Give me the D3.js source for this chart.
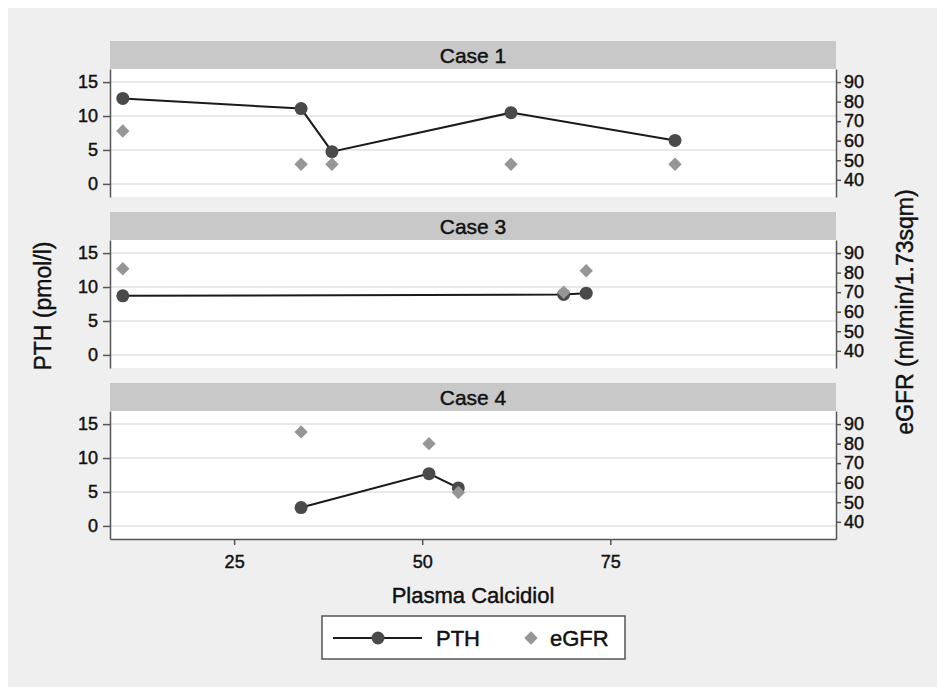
<!DOCTYPE html>
<html>
<head>
<meta charset="utf-8">
<script src="https://cdn.jsdelivr.net/npm/d3@7"></script>
<style>
  html, body { margin: 0; padding: 0; background: #fff; overflow: hidden; }
  svg { display: block; }
  svg text { font-family: "Liberation Sans", Arial, sans-serif; fill: #111; stroke: #111; stroke-width: 0.45px; }
</style>
</head>
<body>
<svg id="chart" width="937" height="687"></svg>
<script>
// values
var caseLabels = ["Case 1", "Case 3", "Case 4"];

var case1Calcidiol = [10.2, 33.9, 38.0, 61.8, 83.6];
var case1PTH = [12.6, 11.1, 4.75, 10.5, 6.4];
var case1EGFR = [65, 48, 48, 48, 48];

var case3Calcidiol = [10.2, 68.8, 71.8];
var case3PTH = [8.7, 8.9, 9.1];
var case3EGFR = [82, 70, 81];

var case4Calcidiol = [33.9, 50.9, 54.8];
var case4PTH = [2.7, 7.7, 5.6];
var case4EGFR = [86, 80, 55];

var pthTicks = [0, 5, 10, 15];
var egfrTicks = [40, 50, 60, 70, 80, 90];
var calcidiolTicks = [25, 50, 75];

var cases = [
    {label: caseLabels[0], x: case1Calcidiol, pth: case1PTH, egfr: case1EGFR},
    {label: caseLabels[1], x: case3Calcidiol, pth: case3PTH, egfr: case3EGFR},
    {label: caseLabels[2], x: case4Calcidiol, pth: case4PTH, egfr: case4EGFR}
];

var svg = d3.select("#chart");

var left = 110, right = 836;
var firstTop = 41, panelStep = 171, headH = 28, plotH = 128;

svg.append("rect")
    .attr("x", 8).attr("y", 8)
    .attr("width", 929).attr("height", 679)
    .attr("fill", "#efefef");

var x = d3.scaleLinear().domain([8.5, 105]).range([left, right]);

var lineColor = "#1a1a1a", dotColor = "#4a4a4a", diaColor = "#969696";
var diamond = d3.symbol().type(d3.symbolSquare).size(90);

cases.forEach(function(c, i) {
    var top = firstTop + i * panelStep;
    var pTop = top + headH, pBot = pTop + plotH;

    var yL = d3.scaleLinear().domain([-1.93, 16.93]).range([pBot, pTop]);
    var yR = d3.scaleLinear().domain([31.2, 96.7]).range([pBot, pTop]);

    var g = svg.append("g");

    // strip header
    g.append("rect")
        .attr("x", left).attr("y", top)
        .attr("width", right - left).attr("height", headH)
        .attr("fill", "#c8c8c8");
    g.append("text")
        .attr("x", (left + right) / 2).attr("y", top + headH / 2)
        .attr("dy", "0.36em")
        .attr("text-anchor", "middle")
        .style("font-size", "21px")
        .text(c.label);

    // plot region
    g.append("rect")
        .attr("x", left).attr("y", pTop)
        .attr("width", right - left).attr("height", plotH)
        .attr("fill", "#fff");

    g.selectAll(".grid")
        .data(pthTicks)
        .enter().append("line")
        .attr("x1", left).attr("x2", right)
        .attr("y1", function(d) { return yL(d); })
        .attr("y2", function(d) { return yL(d); })
        .attr("stroke", "#e2e2e2")
        .attr("stroke-width", 1.5);

    var axL = g.append("g")
        .attr("transform", "translate(" + left + ",0)")
        .call(d3.axisLeft(yL).tickValues(pthTicks).tickSize(7).tickSizeOuter(0).tickPadding(5));
    var axR = g.append("g")
        .attr("transform", "translate(" + right + ",0)")
        .call(d3.axisRight(yR).tickValues(egfrTicks).tickSize(5).tickSizeOuter(0).tickPadding(3));
    [axL, axR].forEach(function(a) {
        a.selectAll("path, line").attr("stroke", "#555").attr("stroke-width", 1.5);
        a.selectAll("text").style("font-size", "18px").attr("fill", "#111");
    });

    if (i == cases.length - 1) {
        var axB = g.append("g")
            .attr("transform", "translate(0," + pBot + ")")
            .call(d3.axisBottom(x).tickValues(calcidiolTicks).tickSize(6).tickSizeOuter(0).tickPadding(10));
        axB.selectAll("path, line").attr("stroke", "#555").attr("stroke-width", 1.5);
        axB.selectAll("text").style("font-size", "18px").attr("fill", "#111");
    }

    var pts = c.x.map(function(v, k) { return {x: v, pth: c.pth[k], egfr: c.egfr[k]}; });

    var line = d3.line()
        .x(function(d) { return x(d.x); })
        .y(function(d) { return yL(d.pth); });

    g.append("path")
        .datum(pts)
        .attr("d", line)
        .attr("fill", "none")
        .attr("stroke", lineColor)
        .attr("stroke-width", 2);

    g.selectAll(".dot")
        .data(pts)
        .enter().append("circle")
        .attr("cx", function(d) { return x(d.x); })
        .attr("cy", function(d) { return yL(d.pth); })
        .attr("r", 6.5)
        .attr("fill", dotColor);

    g.selectAll(".dia")
        .data(pts)
        .enter().append("path")
        .attr("d", diamond)
        .attr("transform", function(d) { return "translate(" + x(d.x) + "," + yR(d.egfr) + ") rotate(45)"; })
        .attr("fill", diaColor);
});

// axis titles
svg.append("text")
    .attr("x", (left + right) / 2).attr("y", 603)
    .attr("text-anchor", "middle")
    .style("font-size", "22px")
    .text("Plasma Calcidiol");

svg.append("text")
    .attr("transform", "translate(51,306) rotate(-90)")
    .attr("text-anchor", "middle")
    .style("font-size", "23px")
    .text("PTH (pmol/l)");

svg.append("text")
    .attr("transform", "translate(913,312) rotate(-90)")
    .attr("text-anchor", "middle")
    .style("font-size", "23px")
    .text("eGFR (ml/min/1.73sqm)");

// legend
var lg = svg.append("g");
lg.append("rect")
    .attr("x", 322).attr("y", 616)
    .attr("width", 303).attr("height", 43)
    .attr("fill", "#fff")
    .attr("stroke", "#555")
    .attr("stroke-width", 1.5);
lg.append("line")
    .attr("x1", 333).attr("x2", 422)
    .attr("y1", 638).attr("y2", 638)
    .attr("stroke", lineColor).attr("stroke-width", 2);
lg.append("circle")
    .attr("cx", 378).attr("cy", 638).attr("r", 6.5)
    .attr("fill", dotColor);
lg.append("text")
    .attr("x", 436).attr("y", 638).attr("dy", "0.36em")
    .style("font-size", "22px")
    .text("PTH");
lg.append("path")
    .attr("d", diamond)
    .attr("transform", "translate(531,638) rotate(45)")
    .attr("fill", diaColor);
lg.append("text")
    .attr("x", 550).attr("y", 638).attr("dy", "0.36em")
    .style("font-size", "22px")
    .text("eGFR");
</script>
</body>
</html>
